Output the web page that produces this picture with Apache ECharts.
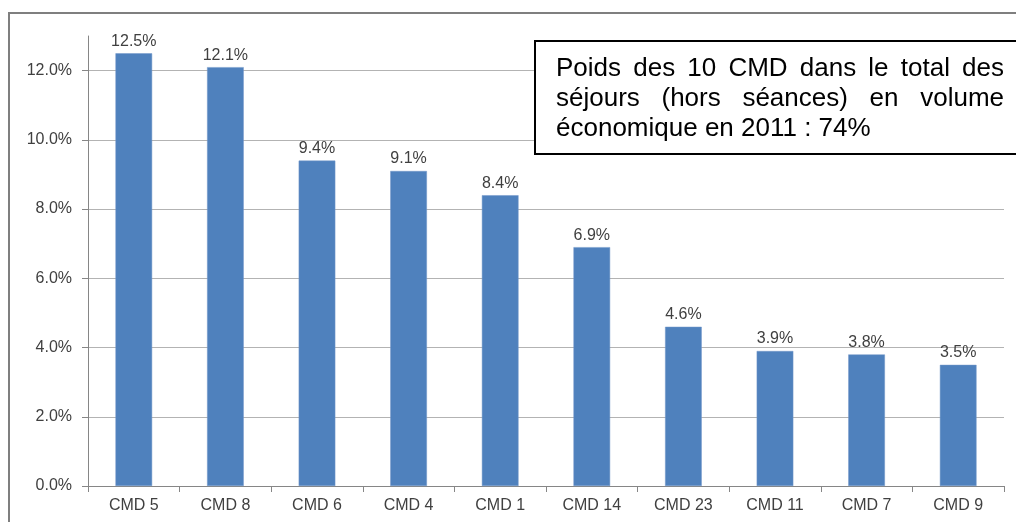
<!DOCTYPE html>
<html>
<head>
<meta charset="utf-8">
<script src="https://cdn.jsdelivr.net/npm/echarts@6/dist/echarts.min.js"></script>
<style>
html,body{margin:0;padding:0;background:#fff;}
#chart{width:1016px;height:522px;}
</style>
</head>
<body>
<div id="chart"></div>
<script>
const categories = ['CMD 5','CMD 8','CMD 6','CMD 4','CMD 1','CMD 14','CMD 23','CMD 11','CMD 7','CMD 9'];
const values = [12.5, 12.1, 9.4, 9.1, 8.4, 6.9, 4.6, 3.9, 3.8, 3.5];
const yTicks = [0, 2, 4, 6, 8, 10, 12];
const noteLines = [
  'Poids des 10 CMD dans le total des',
  'séjours (hors séances) en volume',
  'économique en 2011 : 74%'
];

const FONT = "'Liberation Sans', Arial, sans-serif";
const chart = echarts.init(document.getElementById('chart'), null, {renderer:'canvas'});

// Justified annotation text
const noteFont = "26px " + FONT;
const ctx = document.createElement('canvas').getContext('2d');
ctx.font = noteFont;
const textLeft = 556, textRight = 1004, firstY = 69, lineGap = 30;
const noteElems = [];
noteLines.forEach((line, li) => {
  const y = firstY + li * lineGap;
  const words = line.split(' ');
  const justify = li < noteLines.length - 1;
  if (!justify) {
    noteElems.push({type:'text', x:textLeft, y:y, z:110,
      style:{text:line, font:noteFont, fill:'#000', verticalAlign:'middle', align:'left'}});
    return;
  }
  const widths = words.map(w => ctx.measureText(w).width);
  const total = widths.reduce((a,b)=>a+b,0);
  const gap = (textRight - textLeft - total) / (words.length - 1);
  let x = textLeft;
  words.forEach((w,i) => {
    noteElems.push({type:'text', x:x, y:y, z:110,
      style:{text:w, font:noteFont, fill:'#000', verticalAlign:'middle', align:'left'}});
    x += widths[i] + gap;
  });
});

const option = {
  backgroundColor:'#fff',
  animation:false,
  grid:{left:88, right:12, top:36, bottom:36, containLabel:false},
  xAxis:{
    type:'category',
    data:categories,
    boundaryGap:true,
    axisLine:{lineStyle:{color:'#868686', width:1}},
    axisTick:{show:true, length:6, alignWithLabel:false, lineStyle:{color:'#868686'}},
    axisLabel:{color:'#404040', fontSize:16, fontFamily:FONT, margin:12, interval:0}
  },
  yAxis:{
    type:'value',
    min:0, max:13, interval:2,
    axisLine:{show:true, lineStyle:{color:'#868686', width:1}},
    axisTick:{show:true, inside:false, length:6, lineStyle:{color:'#868686', width:1}, customValues:yTicks},
    axisLabel:{color:'#404040', fontSize:16, fontFamily:FONT, margin:16,
      customValues:yTicks, formatter:v => v.toFixed(1) + '%'},
    splitLine:{show:true, lineStyle:{color:'#b3b3b3', width:1}, customValues:yTicks}
  },
  series:[{
    type:'bar',
    data:values,
    barWidth:'40%',
    itemStyle:{color:'#4f81bd', borderColor:'#7396c8', borderWidth:0.5},
    label:{show:true, position:'top', distance:4, color:'#404040', fontSize:16, fontFamily:FONT,
      formatter:p => p.value.toFixed(1) + '%'}
  }],
  graphic:[
    {type:'rect', z:-10, silent:true, shape:{x:9, y:13, width:1030, height:540},
      style:{fill:null, stroke:'#7f7f7f', lineWidth:2}},
    {type:'rect', z:100, silent:true, shape:{x:535, y:41, width:500, height:113},
      style:{fill:'#fff', stroke:'#000', lineWidth:2}}
  ].concat(noteElems)
};
chart.setOption(option);
</script>
</body>
</html>
